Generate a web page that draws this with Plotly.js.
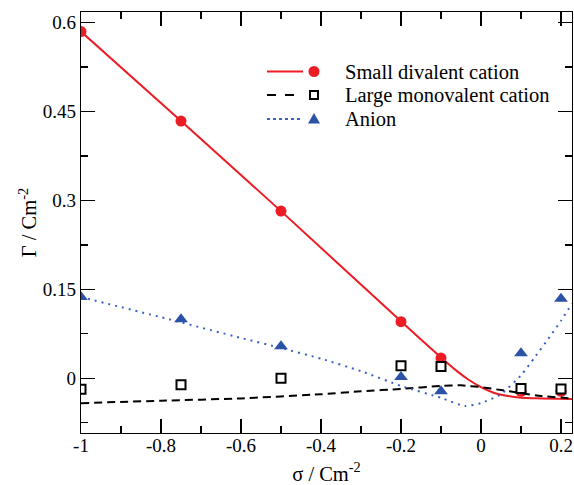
<!DOCTYPE html>
<html>
<head>
<meta charset="utf-8">
<script src="https://cdn.plot.ly/plotly-3.0.1.min.js"></script>
<style>html,body{margin:0;padding:0;background:#fff;}#chart{width:574px;height:485px;}</style>
</head>
<body>
<div id="chart"></div>
<script>
// ---- Data ----
const sigmaPoints = [-1, -0.75, -0.5, -0.2, -0.1, 0.1, 0.2];
const divalentPts = [0.585, 0.434, 0.282, 0.0955, 0.034, -0.022, -0.022];
const monovalentPts = [-0.0185, -0.011, 0.0, 0.021, 0.020, -0.0175, -0.018];
const anionPts = [0.137, 0.0995, 0.054, 0.002, -0.022, 0.042, 0.134];

const divalentCurveX = [-1, -0.75, -0.5, -0.2, -0.1, -0.06, -0.03, 0, 0.03, 0.06, 0.1, 0.15, 0.2275];
const divalentCurveY = [0.585, 0.434, 0.282, 0.096, 0.035, 0.012, -0.003, -0.015, -0.024, -0.029, -0.033, -0.034, -0.035];

const monovalentCurveX = [-1, -0.8, -0.6, -0.4, -0.3, -0.2, -0.1, -0.05, 0, 0.05, 0.1, 0.15, 0.2275];
const monovalentCurveY = [-0.042, -0.038, -0.034, -0.027, -0.022, -0.018, -0.013, -0.012, -0.015, -0.02, -0.025, -0.030, -0.034];

const anionCurveX = [-1, -0.8, -0.6, -0.5, -0.4, -0.3, -0.2, -0.1, -0.04, 0, 0.05, 0.1, 0.134, 0.172, 0.2, 0.2275];
const anionCurveY = [0.137, 0.103, 0.068, 0.051, 0.033, 0.012, -0.013, -0.033, -0.047, -0.042, -0.027, 0.005, 0.035, 0.070, 0.097, 0.126];

const seriesNames = ["Small divalent cation", "Large monovalent cation", "Anion"];

const xTickVals = [-1, -0.8, -0.6, -0.4, -0.2, 0, 0.2];
const xTickText = ["-1", "-0.8", "-0.6", "-0.4", "-0.2", "0", "0.2"];
const xMinorVals = [-0.9, -0.7, -0.5, -0.3, -0.1, 0.1];
const yTickVals = [0, 0.15, 0.3, 0.45, 0.6];
const yTickText = ["0", "0.15", "0.3", "0.45", "0.6"];
const yMinorVals = [-0.075, 0.075, 0.225, 0.375, 0.525];

// ---- Styles ----
const RED = "#ec1c24", BLACK = "#000000", BLUE = "#2b52a6", BLUE_LINE = "#3a5fc8";
const FONT = "Liberation Serif";

const traces = [
  {x: divalentCurveX, y: divalentCurveY, mode: "lines", line: {color: RED, width: 2, shape: "spline", smoothing: 0.5}, showlegend: false, hoverinfo: "skip"},
  {x: sigmaPoints, y: divalentPts, mode: "markers", marker: {symbol: "circle", size: 11, color: RED}, showlegend: false, name: seriesNames[0]},
  {x: monovalentCurveX, y: monovalentCurveY, mode: "lines", line: {color: BLACK, width: 2, dash: "8px,5px", shape: "spline", smoothing: 0.5}, showlegend: false, hoverinfo: "skip"},
  {x: sigmaPoints, y: monovalentPts, mode: "markers", marker: {symbol: "square", size: 9, color: "#ffffff", line: {color: BLACK, width: 2}}, showlegend: false, name: seriesNames[1]},
  {x: anionCurveX, y: anionCurveY, mode: "lines", line: {color: BLUE_LINE, width: 2, dash: "2px,5px", shape: "spline", smoothing: 0.5}, showlegend: false, hoverinfo: "skip"},
  {x: sigmaPoints, y: anionPts, mode: "markers", marker: {symbol: "triangle-up", size: 12, color: BLUE}, showlegend: false, name: seriesNames[2]}
];

// plot area in pixels (for placing the hand-drawn legend)
const L = 81, R = 572, T = 12, B = 433;
const px = v => (v - L) / (R - L);
const py = v => (B - v) / (B - T);

const legendRows = [71.5, 95, 119];
const legendLineStyles = [
  {color: RED, width: 2, dash: "solid"},
  {color: BLACK, width: 2, dash: "dash"},
  {color: BLUE_LINE, width: 2, dash: "dot"}
];
const shapes = [];
const annotations = [];
legendRows.forEach((ry, i) => {
  shapes.push({type: "line", xref: "paper", yref: "paper", x0: px(267), x1: px(303), y0: py(ry), y1: py(ry), line: legendLineStyles[i]});
  annotations.push({xref: "paper", yref: "paper", x: px(343), y: py(ry), xanchor: "left", yanchor: "middle", showarrow: false, text: seriesNames[i], font: {family: FONT, size: 20.5, color: "#000"}});
});
// legend markers
shapes.push({type: "circle", xref: "paper", yref: "paper", xsizemode: "pixel", ysizemode: "pixel", xanchor: px(314), yanchor: py(legendRows[0]), x0: -5.5, x1: 5.5, y0: -5.5, y1: 5.5, fillcolor: RED, line: {width: 0}});
shapes.push({type: "rect", xref: "paper", yref: "paper", xsizemode: "pixel", ysizemode: "pixel", xanchor: px(314), yanchor: py(legendRows[1]), x0: -4, x1: 4, y0: -4, y1: 4, fillcolor: "#fff", line: {color: BLACK, width: 2}});
shapes.push({type: "path", xref: "paper", yref: "paper", xsizemode: "pixel", ysizemode: "pixel", xanchor: px(314), yanchor: py(legendRows[2]), path: "M-6,-4.5 L6,-4.5 L0,6 Z", fillcolor: BLUE, line: {width: 0}});

const axisCommon = {
  showline: true, linecolor: "#000", linewidth: 1.3, mirror: "allticks",
  ticks: "inside", ticklen: 14, tickwidth: 1.3, tickcolor: "#000",
  showgrid: false, zeroline: false,
  tickfont: {family: FONT, size: 19, color: "#000"},
  tickmode: "array"
};

const layout = {
  width: 574, height: 485,
  margin: {l: L, r: 574 - R, t: T, b: 485 - B},
  paper_bgcolor: "#fff", plot_bgcolor: "#fff",
  font: {family: FONT, color: "#000"},
  showlegend: false,
  xaxis: Object.assign({}, axisCommon, {
    range: [-1, 0.2275], tickvals: xTickVals, ticktext: xTickText,
    ticklabelstandoff: -5,
    minor: {tickmode: "array", tickvals: xMinorVals, ticks: "inside", ticklen: 7, tickwidth: 1.3, tickcolor: "#000", showgrid: false},
    title: {text: "σ / Cm<sup>-2</sup>", font: {family: FONT, size: 20.5, color: "#000"}, standoff: 15}
  }),
  yaxis: Object.assign({}, axisCommon, {
    range: [-0.0924, 0.618], tickvals: yTickVals, ticktext: yTickText,
    minor: {tickmode: "array", tickvals: yMinorVals, ticks: "inside", ticklen: 7, tickwidth: 1.3, tickcolor: "#000", showgrid: false},
    title: {text: "Γ / Cm<sup>-2</sup>", font: {family: FONT, size: 20.5, color: "#000"}, standoff: 0}
  }),
  shapes: shapes,
  annotations: annotations
};

Plotly.newPlot("chart", traces, layout, {staticPlot: true, displayModeBar: false});
</script>
</body>
</html>
